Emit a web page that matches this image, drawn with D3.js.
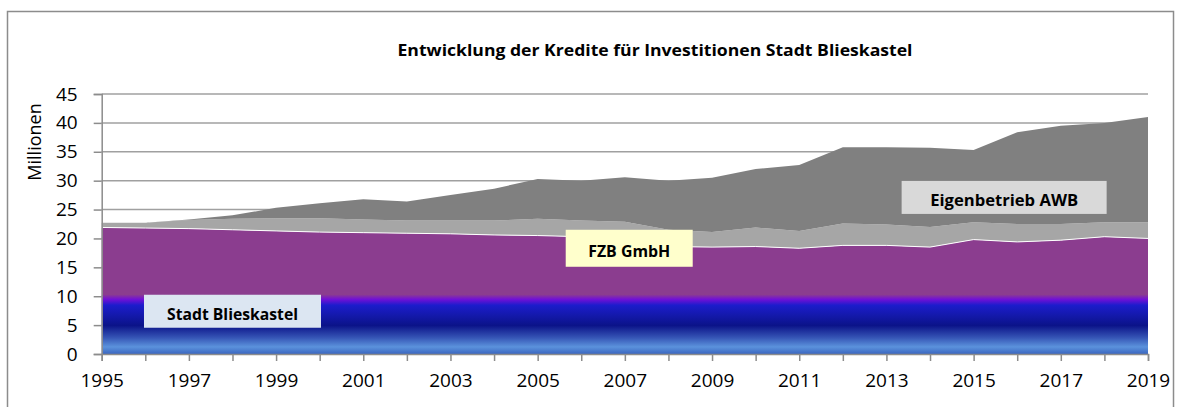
<!DOCTYPE html>
<html>
<head>
<meta charset="utf-8">
<script src="https://cdn.jsdelivr.net/npm/d3@7"></script>
<style>
  body { margin: 0; background: #fff; }
  svg { display: block; font-family: "Open Sans", sans-serif; }
</style>
</head>
<body>
<svg id="chart" width="1180" height="407"></svg>
<script>
// years on the x axis
var years = d3.range(1995, 2020);

// values in Millionen per series (stacked)
var stadt = [21.9, 21.8, 21.7, 21.5, 21.3, 21.1, 21.0, 20.9, 20.8, 20.6, 20.5, 20.3, 20.0,
             18.6, 18.5, 18.6, 18.3, 18.8, 18.8, 18.5, 19.8, 19.4, 19.7, 20.3, 20.0];
var fzb   = [0.8, 0.9, 1.5, 1.9, 2.2, 2.4, 2.3, 2.2, 2.3, 2.5, 2.9, 2.8, 2.9,
             2.9, 2.6, 3.3, 3.0, 3.8, 3.6, 3.5, 3.0, 3.1, 2.8, 2.5, 2.8];
var awb   = [0, 0, 0.1, 0.6, 1.8, 2.6, 3.5, 3.3, 4.4, 5.5, 6.9, 6.9, 7.7,
             8.5, 9.4, 10.1, 11.4, 13.2, 13.4, 13.7, 12.5, 15.9, 17.0, 17.2, 18.2];

var seriesNames = ["Stadt Blieskastel", "FZB GmbH", "Eigenbetrieb AWB"];
var yTicks = [0, 5, 10, 15, 20, 25, 30, 35, 40, 45];

var svg = d3.select("#chart");

// frame
svg.append("rect")
   .attr("x", 7.5).attr("y", 11.5)
   .attr("width", 1166).attr("height", 420)
   .attr("fill", "#fff")
   .attr("stroke", "#8c8c8c")
   .attr("stroke-width", 1.5);

var x = d3.scaleLinear().domain([1995, 2019]).range([101.7, 1148]);
var y = d3.scaleLinear().domain([0, 45]).range([354, 94]);

// title
svg.append("text")
   .attr("x", 655).attr("y", 56)
   .attr("text-anchor", "middle")
   .attr("font-size", 16).attr("font-weight", "bold")
   .attr("textLength", 515).attr("lengthAdjust", "spacingAndGlyphs")
   .text("Entwicklung der Kredite für Investitionen Stadt Blieskastel");

// gridlines
svg.append("g").selectAll("line")
   .data(yTicks.slice(1))
   .enter().append("line")
   .attr("x1", x(1995)).attr("x2", x(2019))
   .attr("y1", function (d) { return y(d); })
   .attr("y2", function (d) { return y(d); })
   .attr("stroke", "#a0a0a0")
   .attr("stroke-width", 1.5);

// gradient for the bottom series (blue band below 10, purple above)
var grad = svg.append("defs").append("linearGradient")
   .attr("id", "stadtGrad")
   .attr("gradientUnits", "userSpaceOnUse")
   .attr("x1", 0).attr("x2", 0)
   .attr("y1", y(0)).attr("y2", y(10.3));
[[0, "#3a66c0"], [0.12, "#5b92dc"], [0.28, "#3453b4"], [0.48, "#0b1389"],
 [0.66, "#1419ad"], [0.82, "#1c1ccc"], [0.92, "#7210d6"], [1, "#8b3d8f"]]
  .forEach(function (s) {
    grad.append("stop").attr("offset", s[0]).attr("stop-color", s[1]);
  });

var rows = years.map(function (yr, i) {
  return { year: yr, "Stadt Blieskastel": stadt[i], "FZB GmbH": fzb[i], "Eigenbetrieb AWB": awb[i] };
});

var stacked = d3.stack().keys(seriesNames)(rows);
var fills = ["url(#stadtGrad)", "#a6a6a6", "#808080"];

var area = d3.area()
   .x(function (d) { return x(d.data.year); })
   .y0(function (d) { return y(d[0]); })
   .y1(function (d) { return y(d[1]); });

svg.append("g").selectAll("path")
   .data(stacked)
   .enter().append("path")
   .attr("d", area)
   .attr("fill", function (d, i) { return fills[i]; });

// thin white edge on top of the bottom series
svg.append("path")
   .datum(stacked[0])
   .attr("d", d3.line()
       .x(function (d) { return x(d.data.year); })
       .y(function (d) { return y(d[1]); }))
   .attr("fill", "none")
   .attr("stroke", "#fff")
   .attr("stroke-width", 1);

// axes
var xAxis = d3.axisBottom(x)
   .tickValues(years)
   .tickSize(7)
   .tickPadding(13)
   .tickFormat(function (d) { return d % 2 === 1 ? String(d) : ""; });

var gx = svg.append("g")
   .attr("transform", "translate(0," + y(0) + ")")
   .call(xAxis);

var yAxis = d3.axisLeft(y)
   .tickValues(yTicks)
   .tickSize(8)
   .tickPadding(16);

var gy = svg.append("g")
   .attr("transform", "translate(" + x(1995) + ",0)")
   .call(yAxis);

[gx, gy].forEach(function (g) {
  g.select(".domain").attr("stroke", "#8c8c8c").attr("stroke-width", 1.5);
  g.selectAll(".tick line").attr("stroke", "#8c8c8c").attr("stroke-width", 1.5);
  g.selectAll("text")
   .attr("font-family", "Open Sans, sans-serif")
   .attr("font-size", 19)
   .attr("fill", "#000");
});

svg.append("text")
   .attr("transform", "translate(41,142) rotate(-90)")
   .attr("text-anchor", "middle")
   .attr("font-size", 18)
   .text("Millionen");

// series labels
var labels = [
  { text: "Stadt Blieskastel", year: 1998, value: 7.4, w: 177, h: 33, tw: 131, fill: "#dce6f2" },
  { text: "FZB GmbH", year: 2007.1, value: 18.3, w: 127, h: 37, tw: 82, fill: "#ffffcc" },
  { text: "Eigenbetrieb AWB", year: 2015.7, value: 27.1, w: 205, h: 33, tw: 148, fill: "#d9d9d9" }
];

var lg = svg.append("g").selectAll("g")
   .data(labels)
   .enter().append("g")
   .attr("transform", function (d) { return "translate(" + x(d.year) + "," + y(d.value) + ")"; });

lg.append("rect")
   .attr("x", function (d) { return -d.w / 2; })
   .attr("y", function (d) { return -d.h / 2; })
   .attr("width", function (d) { return d.w; })
   .attr("height", function (d) { return d.h; })
   .attr("fill", function (d) { return d.fill; });

lg.append("text")
   .attr("text-anchor", "middle")
   .attr("y", 9)
   .attr("font-size", 16.5)
   .attr("font-weight", "bold")
   .attr("textLength", function (d) { return d.tw; })
   .attr("lengthAdjust", "spacingAndGlyphs")
   .text(function (d) { return d.text; });
</script>
</body>
</html>
